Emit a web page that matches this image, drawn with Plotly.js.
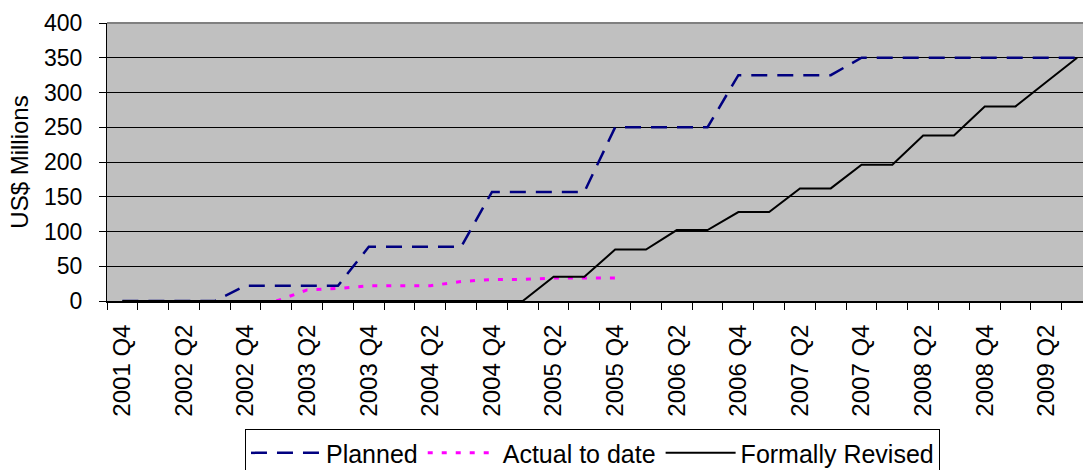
<!DOCTYPE html>
<html>
<head>
<meta charset="utf-8">
<script src="https://cdn.plot.ly/plotly-3.0.1.min.js"></script>
<style>
  html, body { margin: 0; padding: 0; background: #ffffff; }
  #chart { width: 1083px; height: 470px; }
</style>
</head>
<body>
<div id="chart"></div>
<script>
// Quarterly categories, 2001 Q4 .. 2009 Q3
var categories = [
  '2001 Q4',
  '2002 Q1','2002 Q2','2002 Q3','2002 Q4',
  '2003 Q1','2003 Q2','2003 Q3','2003 Q4',
  '2004 Q1','2004 Q2','2004 Q3','2004 Q4',
  '2005 Q1','2005 Q2','2005 Q3','2005 Q4',
  '2006 Q1','2006 Q2','2006 Q3','2006 Q4',
  '2007 Q1','2007 Q2','2007 Q3','2007 Q4',
  '2008 Q1','2008 Q2','2008 Q3','2008 Q4',
  '2009 Q1','2009 Q2','2009 Q3'
];

// Tick labels shown (every second quarter)
var tickLabels = [
  '2001 Q4','','2002 Q2','','2002 Q4','','2003 Q2','','2003 Q4','','2004 Q2','',
  '2004 Q4','','2005 Q2','','2005 Q4','','2006 Q2','','2006 Q4','','2007 Q2','',
  '2007 Q4','','2008 Q2','','2008 Q4','','2009 Q2',''
];

// US$ Millions
var planned = [
  0, 0, 0, 0, 22, 22, 22, 22, 78, 78, 78, 78,
  157, 157, 157, 157, 250, 250, 250, 250, 325, 325, 325, 325,
  350, 350, 350, 350, 350, 350, 350, 350
];

var actualToDate = [
  null, null, null, null, null, 0, 16, 18, 22, 22, 22, 28,
  31, 31, 33, 33, 33, null, null, null, null, null, null, null,
  null, null, null, null, null, null, null, null
];

var formallyRevised = [
  0, 0, 0, 0, 0, 0, 0, 0, 0, 0, 0, 0,
  0, 0, 35, 35, 74, 74, 102, 102, 128, 128, 162, 162,
  196, 196, 238, 238, 280, 280, 315, 350
];

var FONT = 'Liberation Sans, Arial, sans-serif';

var traces = [
  {
    name: 'Planned',
    x: categories, y: planned,
    type: 'scatter', mode: 'lines',
    line: { color: '#000080', width: 2.5, dash: '16px,10px' }
  },
  {
    name: 'Actual to date',
    x: categories, y: actualToDate,
    type: 'scatter', mode: 'lines',
    connectgaps: false,
    line: { color: '#FF00FF', width: 3, dash: '5px,9px' }
  },
  {
    name: 'Formally Revised',
    x: categories, y: formallyRevised,
    type: 'scatter', mode: 'lines',
    line: { color: '#000000', width: 2 }
  }
];

var layout = {
  width: 1083, height: 470,
  margin: { l: 107, r: 0, t: 23, b: 169, pad: 0 },
  paper_bgcolor: '#ffffff',
  plot_bgcolor: '#C0C0C0',
  font: { family: FONT, size: 24, color: '#000000' },
  showlegend: true,
  xaxis: {
    type: 'category',
    categoryorder: 'array', categoryarray: categories,
    range: [-0.5, 31.19],
    tickmode: 'array', tickvals: categories, ticktext: tickLabels,
    tickson: 'boundaries',
    ticks: 'outside', ticklen: 7, tickcolor: '#000000', tickwidth: 1,
    tickangle: -90,
    ticklabelstandoff: 12,
    tickfont: { family: FONT, size: 24, color: '#000000' },
    showgrid: false, zeroline: false,
    showline: true, linecolor: '#000000', linewidth: 2,
    automargin: false, fixedrange: true
  },
  yaxis: {
    range: [0, 400],
    tickmode: 'linear', tick0: 0, dtick: 50,
    ticks: 'outside', ticklen: 7, tickcolor: '#000000', tickwidth: 1,
    ticklabelstandoff: 12,
    tickfont: { family: FONT, size: 23, color: '#000000' },
    showgrid: true, gridcolor: '#000000', gridwidth: 1,
    zeroline: false,
    showline: true, linecolor: '#000000', linewidth: 1,
    title: { text: 'US$ Millions', font: { family: FONT, size: 24, color: '#000000' }, standoff: 8 },
    automargin: false, fixedrange: true
  },
  legend: {
    orientation: 'h',
    xref: 'container', yref: 'container',
    x: 0.2262, xanchor: 'left',
    y: 0.087, yanchor: 'top',
    bgcolor: '#ffffff', bordercolor: '#000000', borderwidth: 1,
    font: { family: FONT, size: 25, color: '#000000' },
    itemwidth: 70,
    traceorder: 'normal'
  },
  shapes: [
    { type: 'line', xref: 'paper', yref: 'paper', x0: 0, x1: 1, y0: 1, y1: 1,
      line: { color: '#808080', width: 2 } }
  ]
};

Plotly.newPlot('chart', traces, layout, { staticPlot: true, displayModeBar: false });
</script>
</body>
</html>
